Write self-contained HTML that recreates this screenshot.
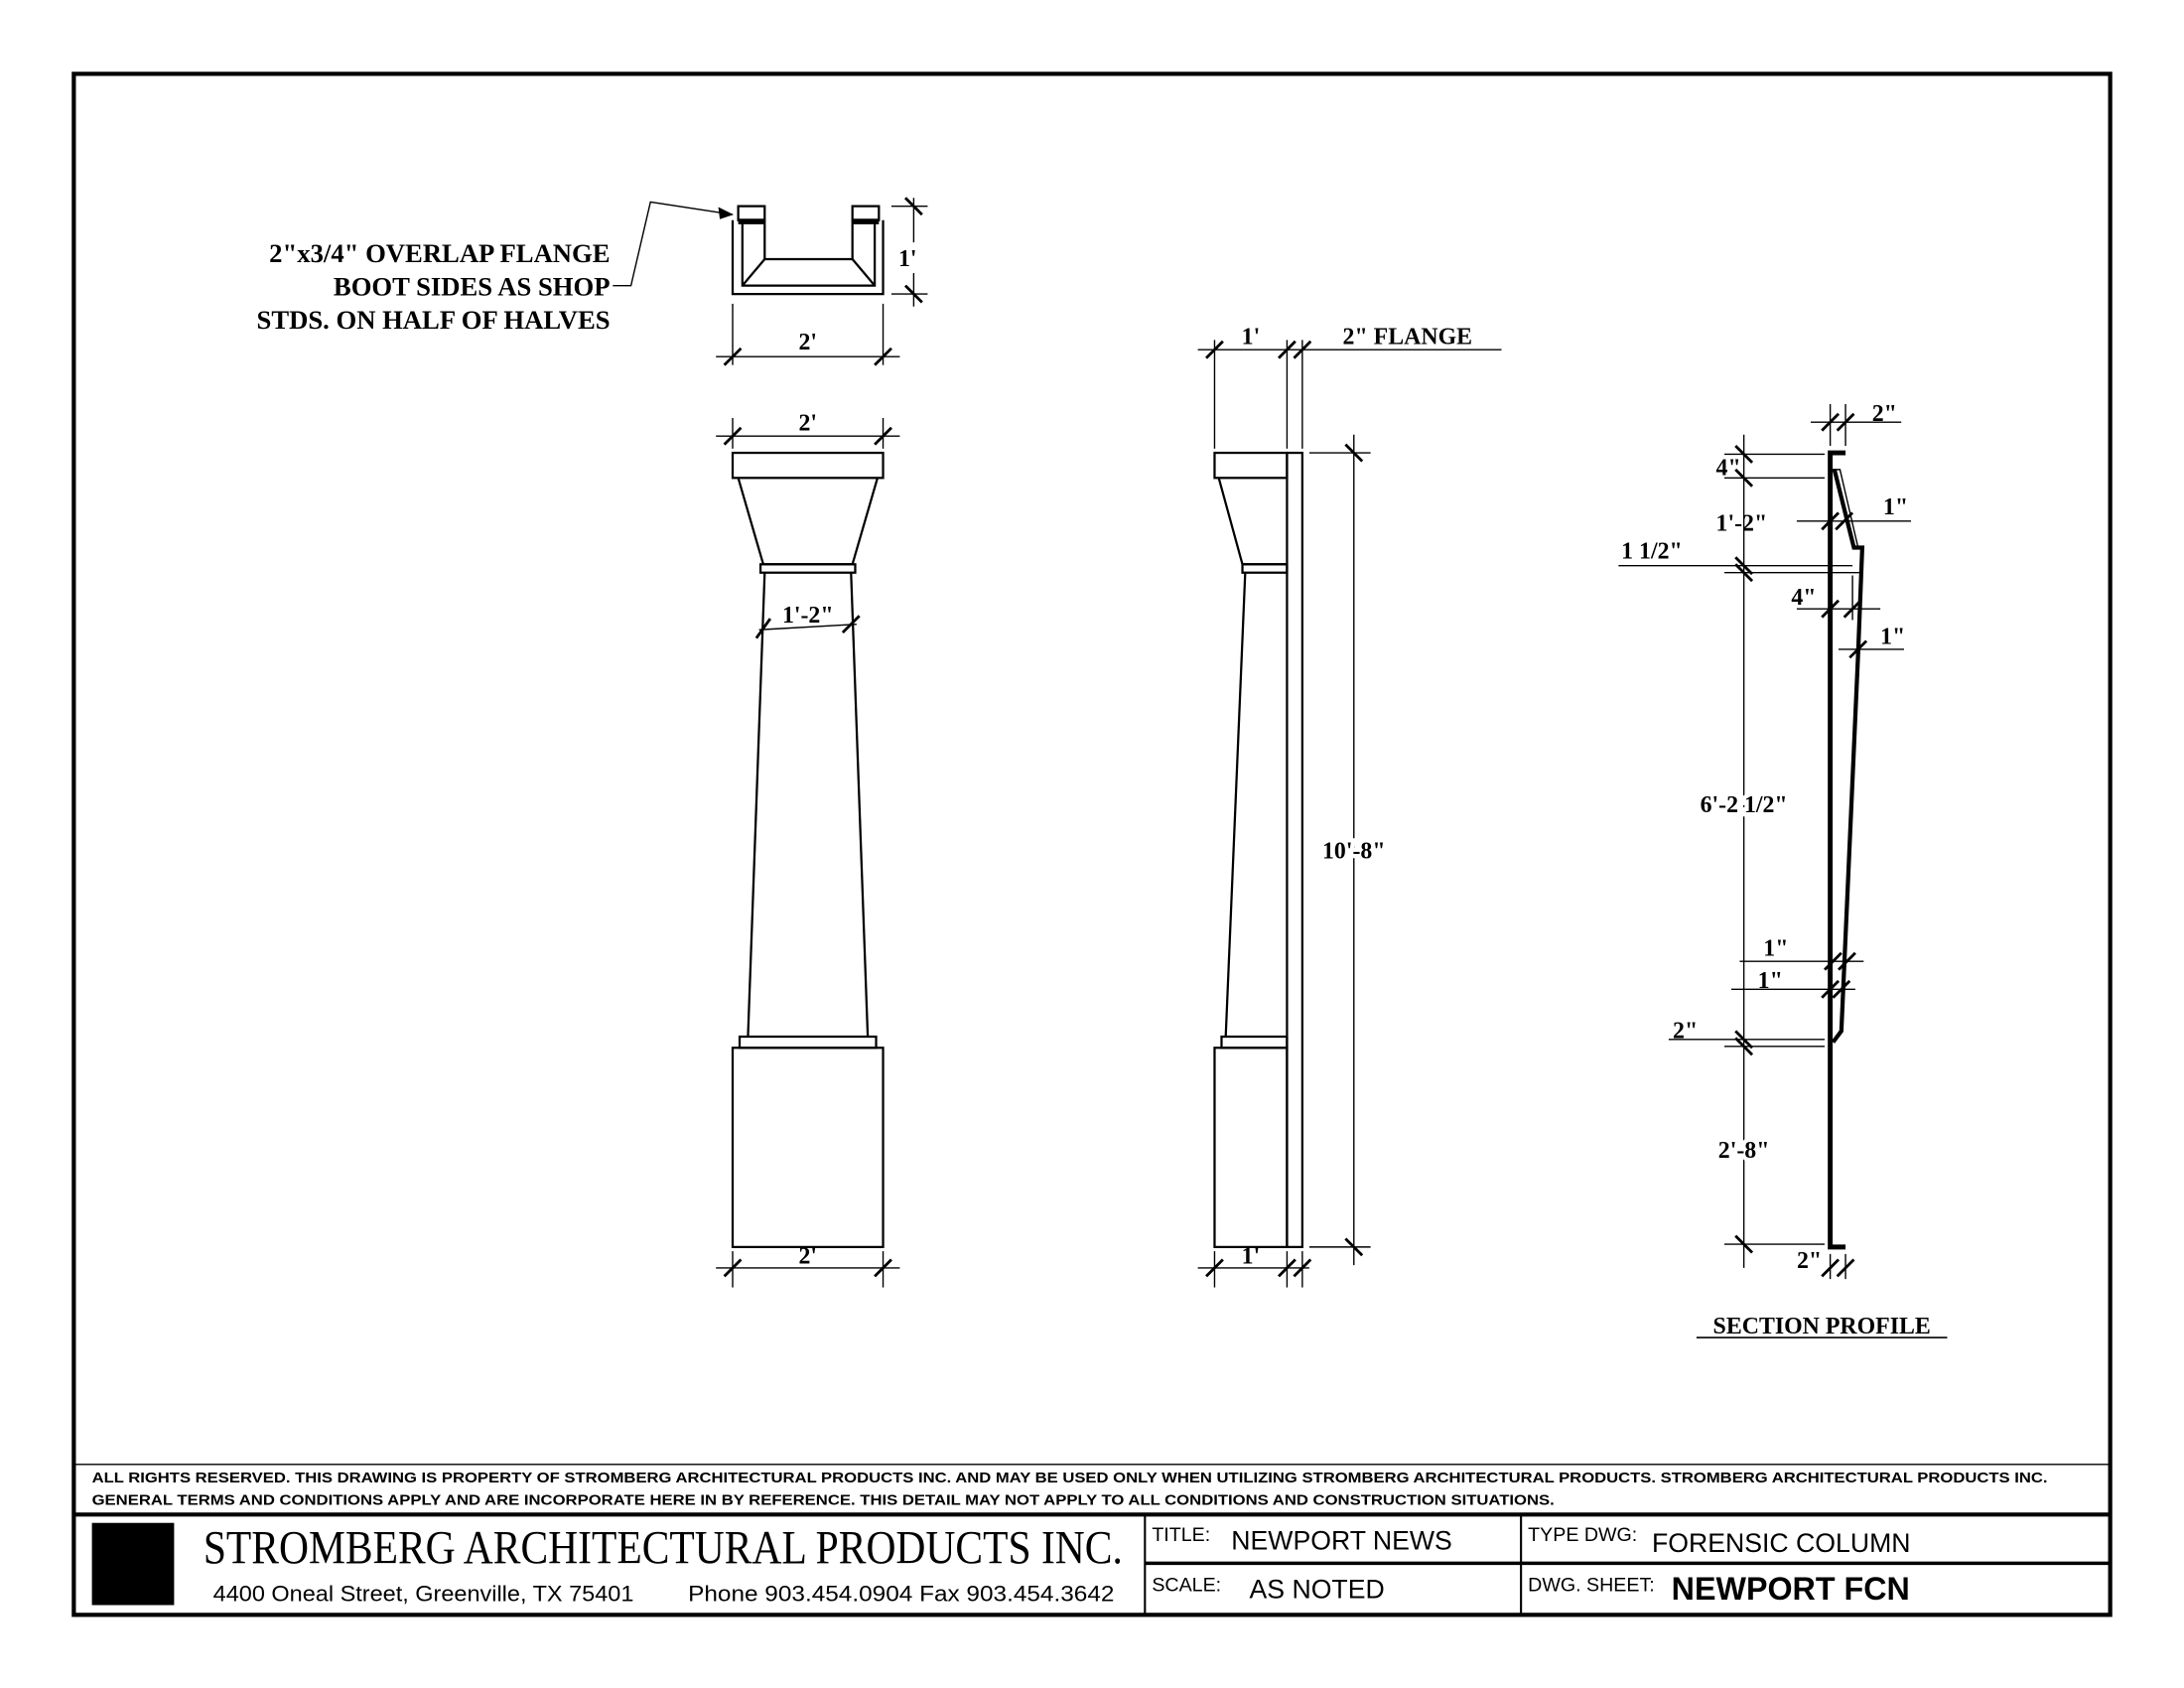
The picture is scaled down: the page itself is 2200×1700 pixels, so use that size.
<!DOCTYPE html>
<html><head><meta charset="utf-8"><style>
html,body{margin:0;padding:0;background:#fff}
svg{display:block}
.s{font-family:"Liberation Serif",serif;font-weight:bold;fill:#000}
.a{font-family:"Liberation Sans",sans-serif;fill:#000}
</style></head><body>
<svg width="2200" height="1700" viewBox="0 0 1568 1211.5" preserveAspectRatio="none" xmlns="http://www.w3.org/2000/svg">
<rect x="0" y="0" width="1568" height="1212" fill="#fff"/>
<g fill="none" stroke="#000">
<rect x="53" y="53" width="1462" height="1106" stroke-width="3"/>
<line x1="53" y1="1051" x2="1515" y2="1051" stroke-width="1"/>
<line x1="53" y1="1087" x2="1515" y2="1087" stroke-width="3"/>
<line x1="822" y1="1087" x2="822" y2="1159" stroke-width="1.5"/>
<line x1="1092" y1="1087" x2="1092" y2="1159" stroke-width="1.5"/>
<line x1="822" y1="1122" x2="1515" y2="1122" stroke-width="2.5"/>

<g stroke-width="1.6">
<path d="M526,158 V211 H634 V158"/>
<path d="M530,148 H549 V158 H530 Z M612,148 H631 V158 H612 Z"/>
<path d="M533,158 V205 H628 V158"/>
<path d="M549,158 V186 H612 V158"/>
<path d="M533,205 L549,186 M628,205 L612,186"/>
<line x1="530" y1="159" x2="549" y2="159" stroke-width="4"/>
<line x1="612" y1="159" x2="631" y2="159" stroke-width="4"/>
</g>
<path d="M440,205 H453 L467,145 L526,154" stroke-width="1"/>
<path d="M526,154 L516,149 L517,157 Z" fill="#000" stroke-width="0.5"/>
<g stroke-width="1">
<line x1="526" y1="218" x2="526" y2="262"/><line x1="634" y1="218" x2="634" y2="262"/>
<line x1="514" y1="256" x2="646" y2="256"/>
<line x1="640" y1="148" x2="666" y2="148"/><line x1="640" y1="211" x2="666" y2="211"/>
<line x1="656" y1="142" x2="656" y2="174"/><line x1="656" y1="196" x2="656" y2="220"/>
</g>
<g stroke-width="2">
<path d="M520,262 L532,250 M628,262 L640,250"/>
<path d="M650,142 L662,154 M650,205 L662,217"/>
</g>

<g stroke-width="1.6">
<rect x="526" y="325" width="108" height="18"/>
<path d="M530,343 L548,405 H612 L630,343"/>
<rect x="546" y="405" width="68" height="6"/>
<path d="M549,411 L537,744 M611,411 L623,744"/>
<rect x="531" y="744" width="98" height="8"/>
<rect x="526" y="752" width="108" height="143"/>
</g>
<g stroke-width="1">
<line x1="526" y1="300" x2="526" y2="322"/><line x1="634" y1="300" x2="634" y2="322"/>
<line x1="514" y1="313" x2="646" y2="313"/>
<line x1="526" y1="898" x2="526" y2="924"/><line x1="634" y1="898" x2="634" y2="924"/>
<line x1="514" y1="910" x2="646" y2="910"/>
<line x1="545" y1="452" x2="615" y2="448"/>
</g>
<g stroke-width="2">
<path d="M520,319 L532,307 M628,319 L640,307"/>
<path d="M520,916 L532,904 M628,916 L640,904"/>
<path d="M543,458 L553,444 M605,454 L617,442"/>
</g>

<g stroke-width="1.6">
<rect x="872" y="325" width="52" height="18"/>
<path d="M875,343 L892,405 H924"/>
<rect x="892" y="405" width="32" height="6"/>
<path d="M894,411 L880,744"/>
<rect x="877" y="744" width="47" height="8"/>
<rect x="872" y="752" width="52" height="143"/>
<rect x="924" y="325" width="11" height="570"/>
</g>
<g stroke-width="1">
<line x1="872" y1="244" x2="872" y2="322"/><line x1="924" y1="244" x2="924" y2="322"/><line x1="935" y1="244" x2="935" y2="322"/>
<line x1="860" y1="251" x2="1078" y2="251"/>
<line x1="940" y1="325" x2="984" y2="325"/><line x1="940" y1="895" x2="984" y2="895"/>
<line x1="972" y1="312" x2="972" y2="908"/>
<line x1="872" y1="898" x2="872" y2="924"/><line x1="924" y1="898" x2="924" y2="924"/><line x1="935" y1="898" x2="935" y2="924"/>
<line x1="860" y1="910" x2="940" y2="910"/>
</g>
<g stroke-width="2">
<path d="M866,257 L878,245 M918,257 L930,245 M929,257 L941,245"/>
<path d="M966,319 L978,331 M966,889 L978,901"/>
<path d="M866,916 L878,904 M918,916 L930,904 M929,916 L941,904"/>
</g>

<g stroke-width="3.5">
<path d="M1325,325 H1314 V895 H1325"/>
<path d="M1317,337 L1331,393 H1337 L1334,470 L1322,740 L1316,748" stroke-width="3"/>
</g>
<g stroke-width="1">
<path d="M1314,337 L1321,337 L1334,393"/>
<path d="M1315,338 V490" stroke-dasharray="30,5,3,5"/>
<line x1="1315" y1="500" x2="1315" y2="740" stroke-dasharray="30,5,3,5"/>
<line x1="1252" y1="312" x2="1252" y2="910"/>
<line x1="1238" y1="326" x2="1310" y2="326"/><line x1="1238" y1="343" x2="1310" y2="343"/>
<line x1="1290" y1="374" x2="1372" y2="374"/>
<line x1="1162" y1="406" x2="1330" y2="406"/><line x1="1238" y1="411" x2="1336" y2="411"/>
<line x1="1290" y1="437" x2="1350" y2="437"/><line x1="1330" y1="413" x2="1330" y2="445"/>
<line x1="1320" y1="466" x2="1367" y2="466"/>
<line x1="1249" y1="690" x2="1338" y2="690"/><line x1="1243" y1="710" x2="1332" y2="710"/>
<line x1="1198" y1="746" x2="1310" y2="746"/><line x1="1238" y1="751" x2="1310" y2="751"/>
<line x1="1238" y1="893" x2="1310" y2="893"/>
<line x1="1300" y1="303" x2="1365" y2="303"/><line x1="1314" y1="290" x2="1314" y2="320"/><line x1="1325" y1="290" x2="1325" y2="320"/>
<line x1="1314" y1="900" x2="1314" y2="918"/><line x1="1325" y1="900" x2="1325" y2="918"/>
</g>
<g stroke-width="2">
<path d="M1246,320 L1258,332 M1246,337 L1258,349 M1246,400 L1258,412 M1246,405 L1258,417 M1246,740 L1258,752 M1246,745 L1258,757 M1246,887 L1258,899"/>
<path d="M1308,309 L1320,297 M1319,309 L1331,297"/>
<path d="M1308,380 L1320,368 M1318,380 L1330,368"/>
<path d="M1308,443 L1320,431 M1324,443 L1336,431"/>
<path d="M1328,472 L1340,460"/>
<path d="M1310,696 L1322,684 M1320,696 L1332,684 M1308,716 L1320,704 M1316,716 L1328,704"/>
<path d="M1308,916 L1320,904 M1319,916 L1331,904"/>
</g>
</g>

<g class="s" font-size="19">
<text x="438" y="188" text-anchor="end">2"x3/4" OVERLAP FLANGE</text>
<text x="438" y="212" text-anchor="end">BOOT SIDES AS SHOP</text>
<text x="438" y="236" text-anchor="end">STDS. ON HALF OF HALVES</text>
</g>
<g class="s" font-size="17">
<text x="580" y="251" text-anchor="middle">2'</text>
<text x="645" y="191">1'</text>
<text x="580" y="309" text-anchor="middle">2'</text>
<text x="580" y="447" text-anchor="middle">1'-2"</text>
<text x="580" y="907" text-anchor="middle">2'</text>
<text x="898" y="247" text-anchor="middle">1'</text>
<text x="964" y="247">2"  FLANGE</text>
<text x="972" y="616" text-anchor="middle" stroke="#fff" stroke-width="6" paint-order="stroke">10'-8"</text>
<text x="898" y="907" text-anchor="middle">1'</text>
<text x="1344" y="302">2"</text>
<text x="1232" y="341">4"</text>
<text x="1232" y="381">1'-2"</text>
<text x="1352" y="369">1"</text>
<text x="1164" y="401">1 1/2"</text>
<text x="1286" y="434">4"</text>
<text x="1350" y="462">1"</text>
<text x="1252" y="583" text-anchor="middle" stroke="#fff" stroke-width="6" paint-order="stroke">6'-2 1/2"</text>
<text x="1266" y="686">1"</text>
<text x="1262" y="709">1"</text>
<text x="1201" y="745">2"</text>
<text x="1252" y="831" text-anchor="middle" stroke="#fff" stroke-width="6" paint-order="stroke">2'-8"</text>
<text x="1290" y="910">2"</text>
<text x="1308" y="957" text-anchor="middle">SECTION PROFILE</text>
</g>
<line x1="1218" y1="960" x2="1398" y2="960" stroke="#000" stroke-width="1.2"/>

<g class="a" font-weight="bold" font-size="10.5">
<text x="66" y="1064" textLength="1404" lengthAdjust="spacingAndGlyphs">ALL RIGHTS RESERVED. THIS DRAWING IS PROPERTY OF STROMBERG ARCHITECTURAL PRODUCTS INC. AND MAY BE USED ONLY WHEN UTILIZING STROMBERG ARCHITECTURAL PRODUCTS.  STROMBERG ARCHITECTURAL PRODUCTS INC.</text>
<text x="66" y="1080" textLength="1050" lengthAdjust="spacingAndGlyphs">GENERAL TERMS AND CONDITIONS APPLY AND ARE INCORPORATE HERE IN BY REFERENCE.  THIS DETAIL MAY NOT APPLY TO ALL CONDITIONS AND CONSTRUCTION SITUATIONS.</text>
</g>
<rect x="66" y="1093" width="59" height="59" fill="#000"/>
<text x="146" y="1122" font-family="Liberation Serif,serif" font-size="34" textLength="660" lengthAdjust="spacingAndGlyphs">STROMBERG ARCHITECTURAL PRODUCTS INC.</text>
<text x="153" y="1149" class="a" font-size="16" textLength="302" lengthAdjust="spacingAndGlyphs">4400 Oneal Street, Greenville, TX  75401</text>
<text x="494" y="1149" class="a" font-size="16" textLength="306" lengthAdjust="spacingAndGlyphs">Phone 903.454.0904   Fax 903.454.3642</text>
<g class="a">
<text x="827" y="1106" font-size="14">TITLE:</text>
<text x="884" y="1112" font-size="19">NEWPORT NEWS</text>
<text x="827" y="1142" font-size="14">SCALE:</text>
<text x="897" y="1147" font-size="19">AS NOTED</text>
<text x="1097" y="1106" font-size="14">TYPE DWG:</text>
<text x="1186" y="1114" font-size="19">FORENSIC COLUMN</text>
<text x="1097" y="1142" font-size="14">DWG. SHEET:</text>
<text x="1200" y="1148" font-size="23" font-weight="bold">NEWPORT FCN</text>
</g>
</svg>
</body></html>
